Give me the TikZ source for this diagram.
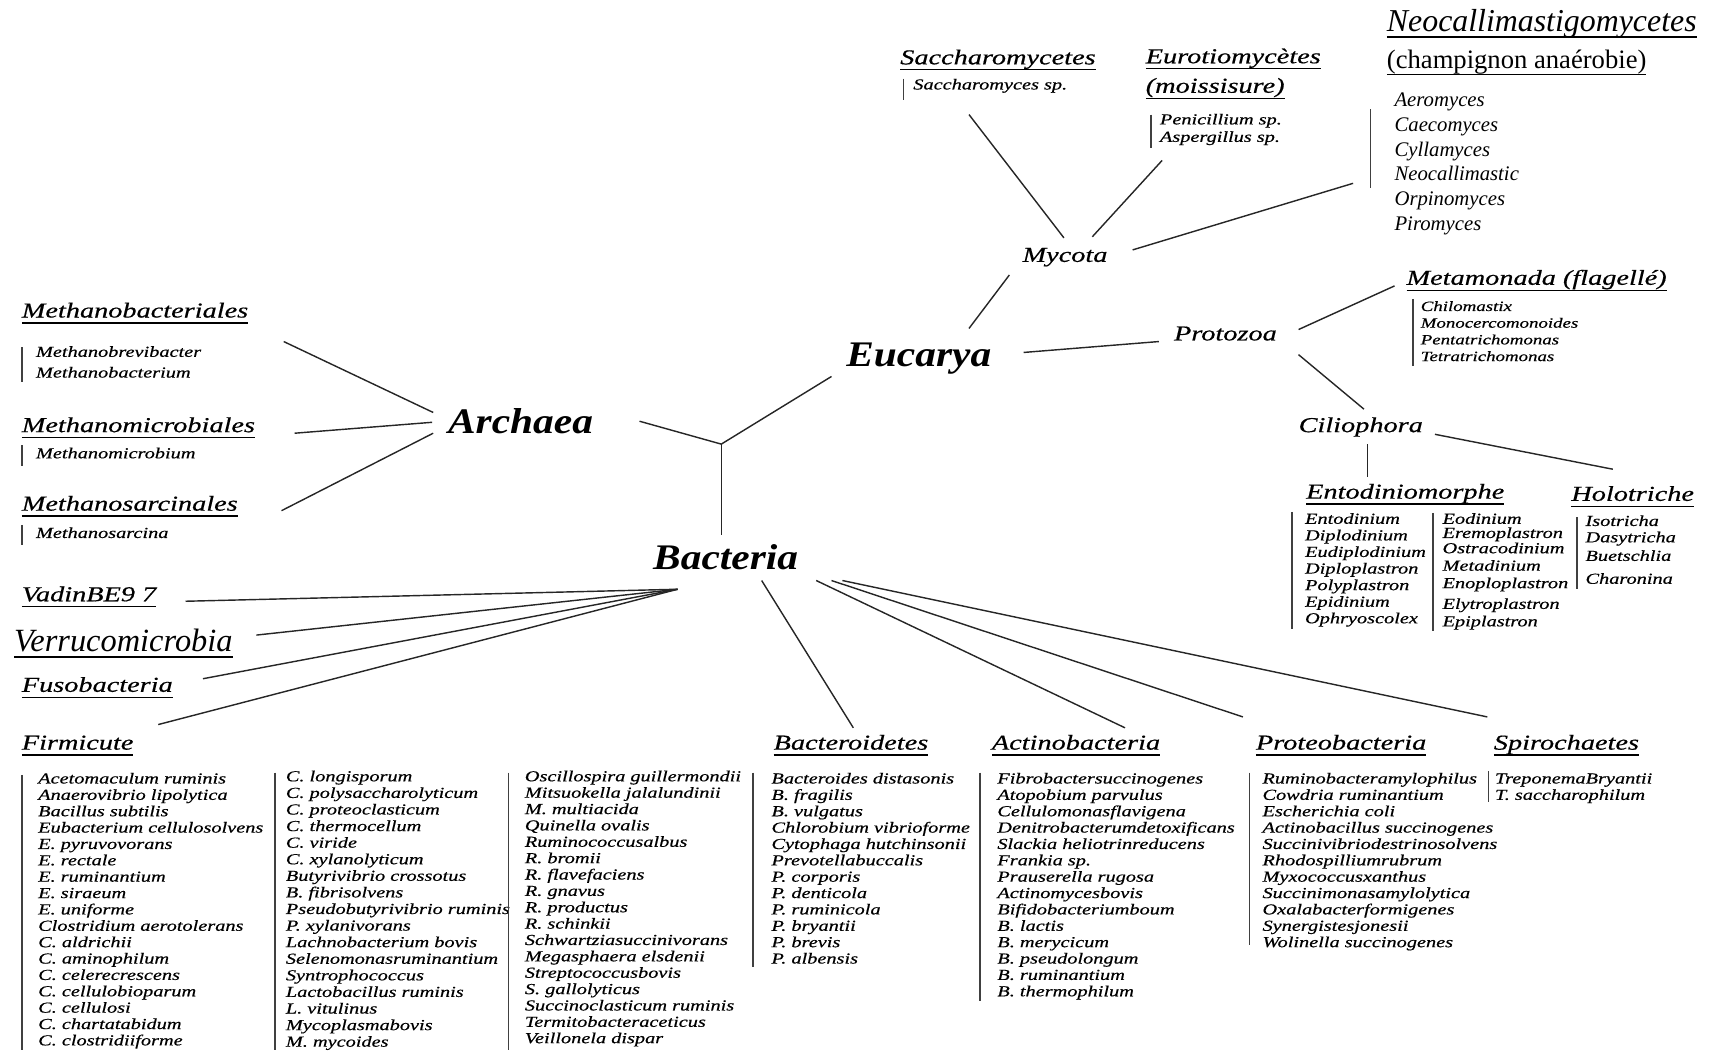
\documentclass[tikz,border=0pt]{standalone}
\usepackage{fontspec}
\setmainfont{Liberation Serif}
\newfontfamily\wf[FakeStretch=1.33,FakeBold=0.5]{Liberation Serif}
\newfontfamily\bigwf[FakeStretch=1.15]{Liberation Serif}
\newcommand\hdr[5][hd]{\node[#1] (#2) at (#3,#4) {#5};
  \draw[ulin] ([yshift=-5pt]#2.base west) -- ([yshift=-5pt]#2.base east);}
\newcommand\splist[5]{\foreach \t [count=\i from 0] in {#5} {\node[spc] (#1\i) at (#2,{#3+#4*\i}) {\t};}}
\newcommand\listbar[3]{\draw[brr] (#1,#2) -- (#1,#3);}
\begin{document}
\begin{tikzpicture}[x=1pt,y=-1pt,
  every node/.style={inner sep=0pt,outer sep=0pt},
  hd/.style={font=\wf\itshape\fontsize{19.5}{22}\selectfont,anchor=base west},
  tnr/.style={font=\itshape\fontsize{29.2}{31}\selectfont,anchor=base west},
  tnrv/.style={font=\itshape\fontsize{29.7}{32}\selectfont,anchor=base west},
  tnrup/.style={font=\fontsize{24.4}{26}\selectfont,anchor=base west},
  big/.style={font=\bigwf\bfseries\itshape\fontsize{33}{36}\selectfont,anchor=base},
  mid/.style={font=\wf\itshape\fontsize{19.5}{22}\selectfont,anchor=base},
  spc/.style={font=\wf\itshape\fontsize{14}{15}\selectfont,anchor=base west},
  brr/.style={line width=1.6pt,draw=black!75},
  edge/.style={line width=1.3pt,draw=black!85},
  ulin/.style={line width=1.2pt}]
\useasboundingbox (0,0) rectangle (1568,963);

% main nodes
\node[big] (euc) at (842,336) {Eucarya};
\node[big] (arc) at (477,397) {Archaea};
\node[big] (bac) at (665,522) {Bacteria};
\node[mid] (myc) at (976,240) {Mycota};
\node[mid] (pro) at (1123,312) {Protozoa};
\node[mid] (cil) at (1247,396) {Ciliophora};

% headers
\hdr{metb}{20}{291}{Methanobacteriales}
\hdr{metm}{20}{396}{Methanomicrobiales}
\hdr{mets}{20}{468}{Methanosarcinales}
\hdr{vad}{20}{551}{VadinBE9 7}
\hdr[tnrv]{verr}{13}{597}{Verrucomicrobia}
\hdr{fuso}{20}{634}{Fusobacteria}
\hdr{firm}{20}{687}{Firmicute}
\hdr{bactd}{709}{687}{Bacteroidetes}
\hdr{acti}{909}{687}{Actinobacteria}
\hdr{prot}{1151}{687}{Proteobacteria}
\hdr{spir}{1369}{687}{Spirochaetes}
\hdr{sacc}{825}{59}{Saccharomycetes}
\hdr{euro}{1050}{58}{Eurotiomycètes}
\hdr{mois}{1050}{85}{(moissisure)}
\hdr[tnr]{neo}{1271}{29}{Neocallimastigomycetes}
\hdr[tnrup]{champ}{1271}{63}{(champignon anaérobie)}
\hdr{meta}{1289}{261}{Metamonada (flagellé)}
\hdr{ento}{1197}{457}{Entodiniomorphe}
\hdr{holo}{1440}{459}{Holotriche}

% species lists
\splist{sa}{837}{82}{16}{Saccharomyces sp.}
\splist{pe}{1063}{114}{16}{Penicillium sp.,Aspergillus sp.}
\begin{scope}[spc/.append style={font=\itshape\fontsize{19}{22}\selectfont}]
\splist{ne}{1278}{98}{22.6}{Aeromyces,Caecomyces,Cyllamyces,Neocallimastic,Orpinomyces,Piromyces}
\end{scope}
\splist{mb}{33}{327}{19}{Methanobrevibacter,Methanobacterium}
\splist{mm}{33}{420}{15}{Methanomicrobium}
\splist{ms}{33}{493}{15}{Methanosarcina}
\begin{scope}[spc/.append style={font=\wf\itshape\fontsize{13}{15}\selectfont}]
\splist{mt}{1302}{285}{15.3}{Chilomastix,Monocercomonoides,Pentatrichomonas,Tetratrichomonas}
\end{scope}
\splist{en}{1196}{480}{15.2}{Entodinium,Diplodinium,Eudiplodinium,Diploplastron,Polyplastron,Epidinium,Ophryoscolex}
\foreach \t/\yy [count=\i] in {Eodinium/480,Eremoplastron/493,Ostracodinium/507,Metadinium/523,Enoploplastron/539,Elytroplastron/558,Epiplastron/574}
  {\node[spc] (eo\i) at (1322,\yy) {\t};}
\foreach \t/\yy [count=\i] in {Isotricha/482,Dasytricha/497,Buetschlia/514,Charonina/535}
  {\node[spc] (is\i) at (1453,\yy) {\t};}
\splist{fa}{35}{718}{15}{Acetomaculum ruminis,Anaerovibrio lipolytica,Bacillus subtilis,Eubacterium cellulosolvens,E. pyruvovorans,E. rectale,E. ruminantium,E. siraeum,E. uniforme,Clostridium aerotolerans,C. aldrichii,C. aminophilum,C. celerecrescens,C. cellulobioparum,C. cellulosi,C. chartatabidum,C. clostridiiforme}
\splist{fb}{262}{716}{15.2}{C. longisporum,C. polysaccharolyticum,C. proteoclasticum,C. thermocellum,C. viride,C. xylanolyticum,Butyrivibrio crossotus,B. fibrisolvens,Pseudobutyrivibrio ruminis,P. xylanivorans,Lachnobacterium bovis,Selenomonasruminantium,Syntrophococcus,Lactobacillus ruminis,L. vitulinus,Mycoplasmabovis,M. mycoides}
\splist{fc}{481}{716}{15}{Oscillospira guillermondii,Mitsuokella jalalundinii,M. multiacida,Quinella ovalis,Ruminococcusalbus,R. bromii,R. flavefaciens,R. gnavus,R. productus,R. schinkii,Schwartziasuccinivorans,Megasphaera elsdenii,Streptococcusbovis,S. gallolyticus,Succinoclasticum ruminis,Termitobacteraceticus,Veillonela dispar}
\splist{bd}{707}{718}{15}{Bacteroides distasonis,B. fragilis,B. vulgatus,Chlorobium vibrioforme,Cytophaga hutchinsonii,Prevotellabuccalis,P. corporis,P. denticola,P. ruminicola,P. bryantii,P. brevis,P. albensis}
\splist{ac}{914}{718}{15}{Fibrobactersuccinogenes,Atopobium parvulus,Cellulomonasflavigena,Denitrobacterumdetoxificans,Slackia heliotrinreducens,Frankia sp.,Prauserella rugosa,Actinomycesbovis,Bifidobacteriumboum,B. lactis,B. merycicum,B. pseudolongum,B. ruminantium,B. thermophilum}
\splist{pr}{1157}{718}{15}{Ruminobacteramylophilus,Cowdria ruminantium,Escherichia coli,Actinobacillus succinogenes,Succinivibriodestrinosolvens,Rhodospilliumrubrum,Myxococcusxanthus,Succinimonasamylolytica,Oxalabacterformigenes,Synergistesjonesii,Wolinella succinogenes}
\splist{sp}{1370}{718}{15}{TreponemaBryantii,T. saccharophilum}

% list bars
\listbar{828}{72}{92}
\listbar{1055}{105}{136}
\listbar{1256}{100}{172}
\listbar{20}{318}{350}
\listbar{20}{408}{427}
\listbar{20}{481}{499}
\listbar{1295}{274}{335}
\listbar{1184}{469}{576}
\listbar{1313}{470}{578}
\listbar{1445}{474}{540}
\listbar{20}{710}{962}
\listbar{252}{708}{962}
\listbar{466}{708}{962}
\listbar{690}{708}{886}
\listbar{898}{708}{917}
\listbar{1145}{708}{866}
\listbar{1364}{707}{735}

% tree connectors
\coordinate (jn) at (661,407);
\coordinate (arE) at (586,386);
\coordinate (euSW) at (762,345);
\coordinate (baN) at (661,490);
\draw[edge] (arE) -- (jn) -- (euSW);
\draw[edge] (jn) -- (baN);
% Archaea
\coordinate (arW1) at (397,378); \coordinate (mbE) at (260,313);
\coordinate (arW2) at (396,387); \coordinate (mmE) at (270,397);
\coordinate (arW3) at (397,397); \coordinate (msE) at (258,468);
\draw[edge] (arW1) -- (mbE);
\draw[edge] (arW2) -- (mmE);
\draw[edge] (arW3) -- (msE);
% Eucarya
\coordinate (euN) at (888,301); \coordinate (myS) at (925,252);
\coordinate (euE) at (938,323); \coordinate (prW) at (1062,313);
\draw[edge] (euN) -- (myS);
\draw[edge] (euE) -- (prW);
% Mycota
\coordinate (myN1) at (975,218); \coordinate (saS) at (888,105);
\coordinate (myN2) at (1001,217); \coordinate (euS) at (1065,147);
\coordinate (myE) at (1038,229); \coordinate (neS) at (1240,168);
\draw[edge] (myN1) -- (saS);
\draw[edge] (myN2) -- (euS);
\draw[edge] (myE) -- (neS);
% Protozoa
\coordinate (prE1) at (1190,302); \coordinate (meW) at (1278,262);
\coordinate (prE2) at (1190,325); \coordinate (ciN) at (1250,375);
\draw[edge] (prE1) -- (meW);
\draw[edge] (prE2) -- (ciN);
% Ciliophora
\coordinate (ciS) at (1253,407); \coordinate (enN) at (1253,437);
\coordinate (ciE) at (1315,398); \coordinate (hoN) at (1478,430);
\draw[edge] (ciS) -- (enN);
\draw[edge] (ciE) -- (hoN);
% Bacteria
\coordinate (bW) at (621,540);
\coordinate (vaE) at (170,551);
\coordinate (veE) at (235,582);
\coordinate (fuE) at (186,622);
\coordinate (fiE) at (145,664);
\draw[edge] (bW) -- (vaE);
\draw[edge] (bW) -- (veE);
\draw[edge] (bW) -- (fuE);
\draw[edge] (bW) -- (fiE);
\coordinate (bS1) at (698,532); \coordinate (bdN) at (782,667);
\coordinate (bS2) at (748,532); \coordinate (acN) at (1031,667);
\coordinate (bS3) at (762,532); \coordinate (poN) at (1139,657);
\coordinate (bS4) at (772,532); \coordinate (spN) at (1363,657);
\draw[edge] (bS1) -- (bdN);
\draw[edge] (bS2) -- (acN);
\draw[edge] (bS3) -- (poN);
\draw[edge] (bS4) -- (spN);
\end{tikzpicture}
\end{document}
